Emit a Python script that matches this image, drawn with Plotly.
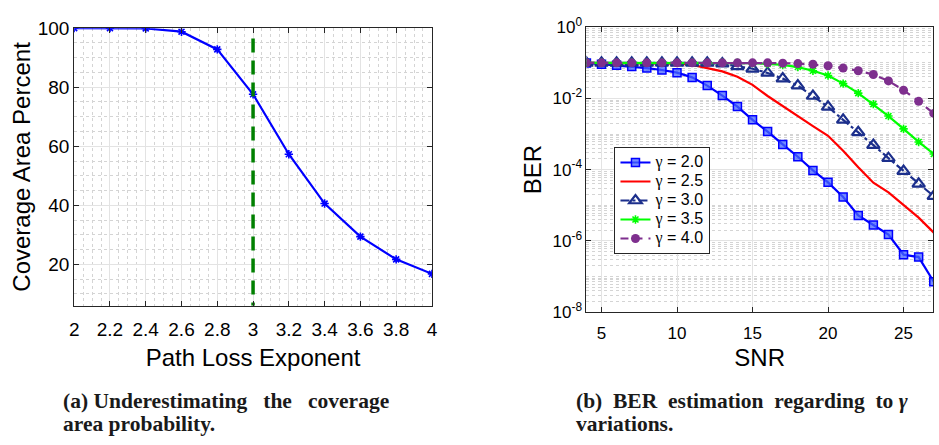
import plotly.graph_objects as go

# ---------------- data: left panel ----------------
path_loss_exponent = [2.0, 2.2, 2.4, 2.6, 2.8, 3.0, 3.2, 3.4, 3.6, 3.8, 4.0]
coverage_percent = [100.0, 100.0, 99.9, 98.8, 92.8, 77.6, 57.3, 40.6, 29.4, 21.7, 16.8]
threshold_x = [3.0, 3.0]
threshold_y = [96.5, 6.0]
left_xticks = [2.0, 2.2, 2.4, 2.6, 2.8, 3.0, 3.2, 3.4, 3.6, 3.8, 4.0]
left_xticklabels = ["2", "2.2", "2.4", "2.6", "2.8", "3", "3.2", "3.4", "3.6", "3.8", "4"]
left_yticks = [20, 40, 60, 80, 100]

# ---------------- data: right panel ----------------
snr = list(range(4, 28))
ber_g20 = [0.099, 0.091, 0.086, 0.079, 0.071, 0.063, 0.053, 0.039, 0.0229, 0.012,
           5.9e-3, 2.5e-3, 1.17e-3, 5.1e-4, 2.3e-4, 9.5e-5, 4.4e-5, 1.7e-5,
           5.2e-6, 2.8e-6, 1.5e-6, 4.1e-7, 3.5e-7, 7.1e-8]
ber_g25 = [0.1, 0.1, 0.1, 0.1, 0.1, 0.0977, 0.0955, 0.0871, 0.0708, 0.0575,
           0.0407, 0.024, 0.0117, 6.0e-3, 3.16e-3, 1.66e-3, 8.9e-4, 3.4e-4,
           1.17e-4, 4.3e-5, 2.3e-5, 1.02e-5, 4.5e-6, 1.7e-6]
ber_g30 = [0.1, 0.1, 0.1, 0.1, 0.1, 0.1, 0.1, 0.1, 0.1, 0.095,
           0.079, 0.068, 0.052, 0.036, 0.0229, 0.0117, 5.8e-3, 2.5e-3,
           1.12e-3, 4.9e-4, 2.1e-4, 9.1e-5, 4.0e-5, 1.8e-5]
ber_g35 = [0.1, 0.1, 0.1, 0.1, 0.1, 0.1, 0.1, 0.1, 0.1, 0.1,
           0.1, 0.098, 0.093, 0.087, 0.076, 0.06, 0.044, 0.026,
           0.0141, 6.9e-3, 3.2e-3, 1.4e-3, 6.0e-4, 2.75e-4]
ber_g40 = [0.1, 0.1, 0.1, 0.1, 0.1, 0.1, 0.1, 0.1, 0.1, 0.1,
           0.1, 0.1, 0.1, 0.098, 0.095, 0.091, 0.083, 0.071, 0.06,
           0.047, 0.031, 0.017, 8.3e-3, 3.8e-3]
right_xticks = [5, 10, 15, 20, 25]
right_yticks = [1e-8, 1e-6, 1e-4, 1e-2, 1.0]
right_yticklabels = ["10<sup>-8</sup>", "10<sup>-6</sup>", "10<sup>-4</sup>",
                     "10<sup>-2</sup>", "10<sup>0</sup>"]
right_yminor = [m * 10.0 ** e for e in range(-8, 0) for m in range(1, 10)]
gamma_labels = ["2.0", "2.5", "3.0", "3.5", "4.0"]

caption_a = ["(a) Underestimating   the   coverage", "area probability."]
caption_b = ["(b)  BER  estimation  regarding  to <i>γ</i>", "variations."]

W, H = 939, 445
FONT = "Liberation Sans, Arial, sans-serif"
AXC = "#262626"
GRID = "#e3e3e3"
MINOR = "#d4d4d4"

def gname(v):
    return ('<span style="font-size:16px"><span style="font-family:Liberation Serif">γ</span> = '
            + v + '</span>')

fig = go.Figure()

# left panel
fig.add_trace(go.Scatter(
    x=path_loss_exponent, y=coverage_percent, mode="lines+markers",
    line=dict(color="#0000ff", width=2.2),
    marker=dict(symbol="asterisk-open", size=7, line=dict(color="#0000ff", width=1.6)),
    showlegend=False, xaxis="x", yaxis="y"))
fig.add_trace(go.Scatter(
    x=threshold_x, y=threshold_y, mode="lines",
    line=dict(color="#008000", width=3.5, dash="14px,8px"),
    showlegend=False, xaxis="x", yaxis="y"))

# right panel
fig.add_trace(go.Scatter(
    x=snr, y=ber_g20, mode="lines+markers", name=gname(gamma_labels[0]),
    line=dict(color="#0000ff", width=2.2),
    marker=dict(symbol="square", size=8, color="rgba(70,100,255,0.75)",
                line=dict(color="#0000ff", width=1.5)),
    xaxis="x2", yaxis="y2"))
fig.add_trace(go.Scatter(
    x=snr, y=ber_g25, mode="lines", name=gname(gamma_labels[1]),
    line=dict(color="#ff0000", width=2.2),
    xaxis="x2", yaxis="y2"))
fig.add_trace(go.Scatter(
    x=snr, y=ber_g30, mode="lines+markers", name=gname(gamma_labels[2]),
    line=dict(color="#1c2f8c", width=2.2, dash="dashdot"),
    marker=dict(symbol="triangle-up-open", size=11, line=dict(color="#1c2f8c", width=2.2)),
    xaxis="x2", yaxis="y2"))
fig.add_trace(go.Scatter(
    x=snr, y=ber_g35, mode="lines+markers", name=gname(gamma_labels[3]),
    line=dict(color="#00ff00", width=2.2),
    marker=dict(symbol="asterisk-open", size=7, line=dict(color="#00ff00", width=1.6)),
    xaxis="x2", yaxis="y2"))
fig.add_trace(go.Scatter(
    x=snr, y=ber_g40, mode="lines+markers", name=gname(gamma_labels[4]),
    line=dict(color="#7e2f8e", width=2.2, dash="8px,6px"),
    marker=dict(symbol="circle", size=9, color="#7e2f8e"),
    xaxis="x2", yaxis="y2"))

axis_common = dict(showline=True, linecolor=AXC, linewidth=1, mirror="ticks",
                   ticks="inside", ticklen=5, tickcolor=AXC, showgrid=True,
                   gridcolor=GRID, gridwidth=1, zeroline=False)

fig.update_layout(
    width=W, height=H, margin=dict(l=0, r=0, t=0, b=0),
    paper_bgcolor="white", plot_bgcolor="white",
    font=dict(family=FONT, color="#000000"),
    xaxis=dict(domain=[70 / W, 432 / W], range=[2, 4], tickmode="array",
               tickvals=left_xticks, ticktext=left_xticklabels,
               tickfont=dict(size=19, family=FONT), ticklabelstandoff=6,
               title=dict(text="Path Loss Exponent", font=dict(size=24, family=FONT), standoff=10),
               minor=dict(dtick=0.05, showgrid=True, gridcolor=MINOR, griddash="dot", ticks=""),
               anchor="y", **axis_common),
    yaxis=dict(domain=[1 - 309 / H, 1 - 17 / H], range=[6, 100], tickmode="array",
               tickvals=left_yticks, tickfont=dict(size=19, family=FONT),
               title=dict(text="Coverage Area Percent", font=dict(size=24, family=FONT), standoff=0),
               minor=dict(dtick=5, tick0=0, showgrid=True, gridcolor=MINOR, griddash="dot", ticks=""),
               anchor="x", **axis_common),
    xaxis2=dict(domain=[588.3 / W, 1.0], range=[4, 26.95], tickmode="array",
                tickvals=right_xticks, tickfont=dict(size=17, family=FONT), ticklabelstandoff=6,
                title=dict(text="SNR", font=dict(size=24, family=FONT), standoff=6),
                anchor="y2", **axis_common),
    yaxis2=dict(domain=[1 - 315.7 / H, 1 - 16 / H], type="log", range=[-8, 0],
                tickmode="array", tickvals=right_yticks, ticktext=right_yticklabels,
                tickfont=dict(size=17, family=FONT),
                title=dict(text="BER", font=dict(size=24, family=FONT), standoff=4),
                minor=dict(tickmode="array", tickvals=right_yminor, showgrid=True,
                           gridcolor=MINOR, griddash="dot", ticks=""),
                anchor="x2", **axis_common),
    legend=dict(x=616.7 / W, y=1 - 142 / H, xanchor="left", yanchor="top",
                bgcolor="white", bordercolor=AXC, borderwidth=1,
                font=dict(size=12, family=FONT), tracegroupgap=0),
)

cap_font = dict(family="Liberation Serif, Times New Roman, serif", size=21.5, color="#1a1a1a")
for i, (ta, tb) in enumerate(zip(caption_a, caption_b)):
    yy = 1 - (409 + 24 * i) / H
    fig.add_annotation(x=57 / W, y=yy, xref="paper", yref="paper",
                       xanchor="left", yanchor="middle", align="left", showarrow=False,
                       text="<b>" + ta + "</b>", font=cap_font)
    fig.add_annotation(x=576 / W, y=yy, xref="paper", yref="paper",
                       xanchor="left", yanchor="middle", align="left", showarrow=False,
                       text="<b>" + tb + "</b>", font=cap_font)

fig.write_html("out.html")
